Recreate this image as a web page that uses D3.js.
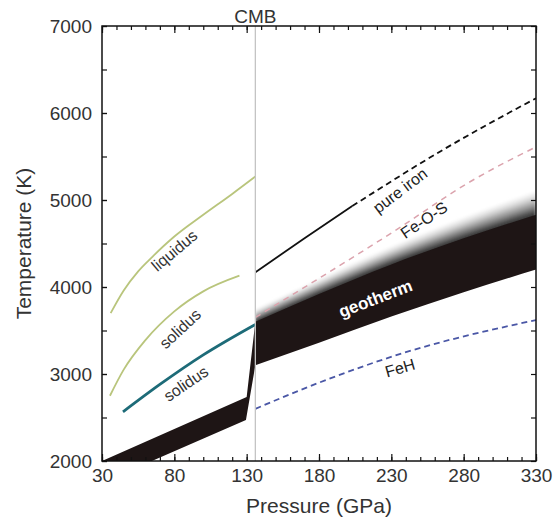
<!DOCTYPE html>
<html>
<head>
<meta charset="utf-8">
<script src="https://cdn.jsdelivr.net/npm/d3@7"></script>
<style>
  body { margin: 0; background: #fff; }
  text { font-family: "Liberation Sans", Arial, sans-serif; }
</style>
</head>
<body>
<svg id="chart" width="553" height="523"></svg>
<script>
// pressure (GPa) / temperature (K) pairs
const liquidus = [[36, 3700], [45, 3960], [55, 4180], [65, 4350], [80, 4580], [100, 4830], [120, 5070], [136, 5270]];
const solidusUpper = [[35.5, 2750], [45, 3050], [60, 3390], [80, 3720], [100, 3950], [125, 4130]];
const solidusLower = [[44.5, 2565], [70, 2880], [100, 3220], [136, 3570]];

// mantle geotherm band (left of CMB) and core geotherm band (right of CMB)
const mantleTop = [[30, 2000], [130, 2736], [136, 3600]];
const mantleBottom = [[64.5, 2000], [129.5, 2470], [136, 3100]];
const coreTop = [[136, 3600], [180, 3920], [230, 4260], [280, 4560], [330, 4830]];
const coreBottom = [[136, 3100], [180, 3360], [230, 3660], [280, 3940], [330, 4200]];
// thickness of the grey fringe above the core band (K)
const fringe = [[136, 140], [330, 270]];

const pureIronSolid = [[136, 4170], [170, 4560], [203, 4930]];
const pureIronDashed = [[203, 4930], [265, 5570], [330, 6170]];
const feOS = [[136, 3650], [167, 3966], [230, 4620], [286.5, 5230], [330, 5610]];
const feH = [[136, 2600], [180, 2900], [238, 3240], [330, 3620]];

const cmb = 136;
const xMajor = [30, 80, 130, 180, 230, 280, 330];
const xMinor = d3.range(30, 331, 10);
const yMajor = [2000, 3000, 4000, 5000, 6000, 7000];
const yMinor = d3.range(2000, 7001, 500);

const mLeft = 102, mRight = 536, mTop = 26, mBottom = 461;

const svg = d3.select("#chart");
const x = d3.scaleLinear().domain([30, 330]).range([mLeft, mRight]);
const y = d3.scaleLinear().domain([2000, 7000]).range([mBottom, mTop]);

const defs = svg.append("defs");
defs.append("clipPath").attr("id", "plot")
  .append("rect").attr("x", mLeft).attr("y", mTop)
  .attr("width", mRight - mLeft).attr("height", mBottom - mTop);
defs.append("clipPath").attr("id", "core")
  .append("rect").attr("x", x(cmb)).attr("y", mTop)
  .attr("width", mRight - x(cmb)).attr("height", mBottom - mTop);
defs.append("filter").attr("id", "blur")
  .append("feGaussianBlur").attr("stdDeviation", 1.5);

const line = d3.line().x(d => x(d[0])).y(d => y(d[1]));
const smooth = d3.line().x(d => x(d[0])).y(d => y(d[1])).curve(d3.curveMonotoneX);

const plot = svg.append("g").attr("clip-path", "url(#plot)");

// grey fringe on top of core band: stacked layers, lightest (widest) first
const fringeAt = p => {
  const t = (p - fringe[0][0]) / (fringe[1][0] - fringe[0][0]);
  return fringe[0][1] + t * (fringe[1][1] - fringe[0][1]);
};
const shade = d3.interpolateRgb("#f4f4f4", "#3a3a3a");
const layers = d3.range(0, 10);
const fringeG = plot.append("g").attr("clip-path", "url(#core)")
  .append("g").attr("filter", "url(#blur)");
fringeG.selectAll("path").data(layers).join("path")
  .attr("d", i => {
    const f = 1 - i / layers.length;
    const poly = coreTop.map(d => [d[0], d[1] + fringeAt(d[0]) * f])
      .concat(coreTop.slice().reverse().map(d => [d[0], d[1] - 60]));
    return smooth(poly.slice(0, coreTop.length)) + "L" +
      line(poly.slice(coreTop.length)).slice(1) + "Z";
  })
  .attr("fill", i => shade(Math.pow(i / (layers.length - 1), 1.3)));

// CMB line
svg.append("line")
  .attr("x1", x(cmb)).attr("x2", x(cmb))
  .attr("y1", mTop).attr("y2", mBottom)
  .attr("stroke", "#c4c4c4").attr("stroke-width", 1.3);

// Fe-O-S melting curve
plot.append("path").attr("d", smooth(feOS))
  .attr("fill", "none").attr("stroke", "#dba3ad")
  .attr("stroke-width", 1.5).attr("stroke-dasharray", "6,5");

// geotherm (mantle + thermal boundary layer + core)
const bandPath = line(mantleTop) +
  "L" + smooth(coreTop).slice(1) +
  "L" + smooth(coreBottom.slice().reverse()).slice(1) +
  "L" + line(mantleBottom.slice().reverse()).slice(1) + "Z";
plot.append("path").attr("d", bandPath)
  .attr("fill", "#1e1515");

// silicate liquidus / solidus
plot.append("path").attr("d", smooth(liquidus))
  .attr("fill", "none").attr("stroke", "#b9c57c").attr("stroke-width", 1.8);
plot.append("path").attr("d", smooth(solidusUpper))
  .attr("fill", "none").attr("stroke", "#b9c57c").attr("stroke-width", 1.8);
plot.append("path").attr("d", smooth(solidusLower))
  .attr("fill", "none").attr("stroke", "#1d6b78").attr("stroke-width", 2.8);

// pure iron melting curve
plot.append("path").attr("d", smooth(pureIronSolid))
  .attr("fill", "none").attr("stroke", "#111").attr("stroke-width", 1.8);
plot.append("path").attr("d", smooth(pureIronDashed))
  .attr("fill", "none").attr("stroke", "#111")
  .attr("stroke-width", 1.8).attr("stroke-dasharray", "6,4");

// FeH melting curve
plot.append("path").attr("d", smooth(feH))
  .attr("fill", "none").attr("stroke", "#4a57a6")
  .attr("stroke-width", 1.8).attr("stroke-dasharray", "6,4");

// curve labels
const labels = [
  { text: "liquidus", p: 80, t: 4420, angle: -40, color: "#333", weight: "normal" },
  { text: "solidus", p: 84, t: 3520, angle: -43, color: "#333", weight: "normal" },
  { text: "solidus", p: 88, t: 2890, angle: -34, color: "#333", weight: "normal" },
  { text: "pure iron", p: 236, t: 5110, angle: -37, color: "#222", weight: "normal" },
  { text: "Fe-O-S", p: 252.5, t: 4770, angle: -34, color: "#222", weight: "normal" },
  { text: "geotherm", p: 219, t: 3870, angle: -21, color: "#fff", weight: "bold" },
  { text: "FeH", p: 236, t: 3070, angle: -16, color: "#222", weight: "normal" }
];
svg.append("g").selectAll("text").data(labels).join("text")
  .attr("transform", d => `translate(${x(d.p)},${y(d.t)}) rotate(${d.angle})`)
  .attr("text-anchor", "middle")
  .attr("dy", "0.35em")
  .attr("font-size", d => d.weight === "bold" ? 17 : 16)
  .attr("font-weight", d => d.weight)
  .attr("fill", d => d.color)
  .text(d => d.text);

// axes: ticks point inward
const styleAxis = g => {
  g.select(".domain").remove();
  g.selectAll("line").attr("stroke", "#111").attr("stroke-width", 1.2);
  g.selectAll("text").attr("font-size", 19).attr("fill", "#333")
    .attr("font-family", "'Liberation Sans', Arial, sans-serif");
};
svg.append("g").attr("transform", `translate(0,${mBottom})`)
  .call(d3.axisBottom(x).tickValues(xMinor).tickSize(-4).tickFormat(""))
  .call(styleAxis);
svg.append("g").attr("transform", `translate(0,${mBottom})`)
  .call(d3.axisBottom(x).tickValues(xMajor).tickSize(-7).tickPadding(8).tickFormat(d3.format("d")))
  .call(styleAxis);
svg.append("g").attr("transform", `translate(0,${mTop})`)
  .call(d3.axisTop(x).tickValues(xMinor).tickSize(-4).tickFormat(""))
  .call(styleAxis);
svg.append("g").attr("transform", `translate(0,${mTop})`)
  .call(d3.axisTop(x).tickValues(xMajor).tickSize(-7).tickFormat(""))
  .call(styleAxis);
svg.append("g").attr("transform", `translate(${mLeft},0)`)
  .call(d3.axisLeft(y).tickValues(yMinor).tickSize(-5).tickFormat(""))
  .call(styleAxis);
svg.append("g").attr("transform", `translate(${mLeft},0)`)
  .call(d3.axisLeft(y).tickValues(yMajor).tickSize(-5).tickPadding(10).tickFormat(d3.format("d")))
  .call(styleAxis);
svg.append("g").attr("transform", `translate(${mRight},0)`)
  .call(d3.axisRight(y).tickValues(yMinor).tickSize(-5).tickFormat(""))
  .call(styleAxis);

// frame
svg.append("rect")
  .attr("x", mLeft).attr("y", mTop)
  .attr("width", mRight - mLeft).attr("height", mBottom - mTop)
  .attr("fill", "none").attr("stroke", "#111").attr("stroke-width", 1.5);

// titles
svg.append("text")
  .attr("x", x(cmb)).attr("y", 23)
  .attr("text-anchor", "middle").attr("font-size", 19).attr("fill", "#333")
  .text("CMB");
svg.append("text")
  .attr("x", (mLeft + mRight) / 2).attr("y", 513)
  .attr("text-anchor", "middle").attr("font-size", 21).attr("fill", "#333")
  .text("Pressure (GPa)");
svg.append("text")
  .attr("transform", `translate(31,${(mTop + mBottom) / 2}) rotate(-90)`)
  .attr("text-anchor", "middle").attr("font-size", 21).attr("fill", "#333")
  .text("Temperature (K)");
</script>
</body>
</html>
